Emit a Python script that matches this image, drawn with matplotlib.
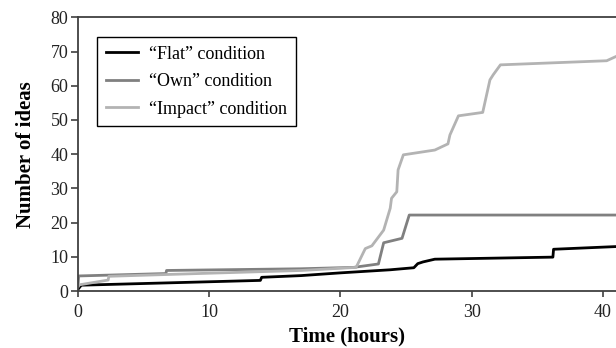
import matplotlib
matplotlib.use("Agg")
import matplotlib.pyplot as plt

# ---- data ----
flat_t = [0, 0.25, 13.9, 14.0, 17.0, 20.0, 23.8, 25.6, 25.9, 26.3, 27.2, 36.2, 36.25, 41.1]
flat_v = [0.5, 1.7, 3.1, 4.0, 4.5, 5.3, 6.2, 6.8, 8.0, 8.5, 9.3, 9.9, 12.2, 13.0]

own_t = [0, 0.05, 6.7, 6.75, 17.0, 21.0, 22.9, 23.3, 24.7, 25.25, 41.1]
own_v = [1.5, 4.4, 5.1, 6.0, 6.5, 6.9, 7.9, 14.1, 15.4, 22.2, 22.2]

impact_t = [0, 0.1, 2.3, 2.35, 10.0, 17.0, 21.2, 21.9, 22.4, 23.3, 23.8, 23.9, 24.3,
            24.4, 24.8, 27.2, 28.2, 28.35, 29.0, 30.85, 31.4, 31.65, 32.2, 40.3, 41.1]
impact_v = [1.2, 1.8, 3.2, 4.3, 5.2, 6.0, 6.9, 12.4, 13.2, 17.8, 24.2, 27.1, 29.0,
            35.4, 39.8, 41.2, 43.0, 45.6, 51.2, 52.2, 61.7, 63.2, 66.1, 67.3, 68.7]

labels = ["\u201cFlat\u201d condition", "\u201cOwn\u201d condition", "\u201cImpact\u201d condition"]
x_ticks = [0, 10, 20, 30, 40]
y_ticks = [0, 10, 20, 30, 40, 50, 60, 70, 80]

plt.rcParams['font.family'] = ['Liberation Serif', 'DejaVu Serif']

fig = plt.figure(figsize=(6.16, 3.48), dpi=100)
ax = fig.add_axes([78/616, 57/348, 538/616, 273.7/348])

ax.plot(flat_t, flat_v, color='#000000', lw=2.0, label=labels[0])
ax.plot(own_t, own_v, color='#808080', lw=2.0, label=labels[1])
ax.plot(impact_t, impact_v, color='#b3b3b3', lw=2.0, label=labels[2])

ax.set_xlim(0, 41.01)
ax.set_ylim(0, 80)
ax.set_xticks(x_ticks)
ax.set_yticks(y_ticks)
ax.tick_params(direction='out', length=5, width=1.2, color='#404040', labelsize=13,
               labelcolor='#222222')
ax.tick_params(axis='y', pad=2)
ax.tick_params(axis='x', pad=5, length=4.5)
for s in ['left', 'bottom', 'top']:
    ax.spines[s].set_color('#404040')
    ax.spines[s].set_linewidth(1.3)
ax.spines['right'].set_visible(False)

ax.set_xlabel("Time (hours)", fontsize=15, fontweight='bold', labelpad=4)
ax.set_ylabel("Number of ideas", fontsize=15, fontweight='bold', labelpad=10)

leg = ax.legend(loc='upper left', bbox_to_anchor=(19/538, 1 - 19.7/273.7), borderaxespad=0,
                fontsize=13, frameon=True, fancybox=False, edgecolor='#000000', framealpha=1,
                handlelength=1.8, handletextpad=0.6, borderpad=0.48, labelspacing=0.58)
leg.get_frame().set_linewidth(1.0)

fig.savefig("out.png", dpi=100)
